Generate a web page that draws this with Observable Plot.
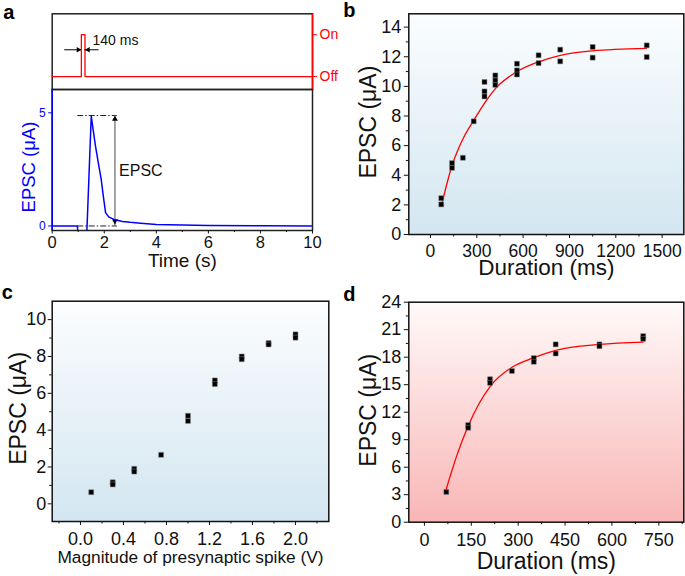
<!DOCTYPE html>
<html><head><meta charset="utf-8">
<script src="https://cdn.jsdelivr.net/npm/d3@7"></script>
<script src="https://cdn.jsdelivr.net/npm/@observablehq/plot@0.6"></script>
<style>
body{margin:0;background:#fff;}
#chart{position:relative;width:685px;height:576px;overflow:hidden;background:#fff;}
#chart svg{position:absolute;overflow:visible;}
</style></head><body><div id="chart"></div>
<script>
// ---------- Panel a data ----------
const pulseT = [0, 1.12, 1.12, 1.26, 1.26, 10];
const pulseLevel = [0, 0, 1, 1, 0, 0];
const stateLabels = ["Off", "On"];
const traceT = [0, 0.97, 0.98, 1.33, 1.5, 1.66, 1.79, 1.88, 1.96, 2.05, 2.17, 2.37, 2.7, 3.0, 3.4, 4.0, 5.0, 6.0, 8.0, 10];
const traceI = [0, 0, -0.3, -0.3, 4.85, 3.55, 2.67, 2.08, 1.35, 0.59, 0.4, 0.29, 0.2, 0.16, 0.12, 0.07, 0.04, 0.02, 0.01, 0];
const timeTicks = [0, 2, 4, 6, 8, 10];
const timeMinor = [1, 3, 5, 7, 9];
const epscTicksA = [0, 5];
const peakLevel = 4.88;
const guideT = [0.98, 2.5];
const arrowT = 2.41;
const pulseArrowY = 0.64;

// ---------- Panel b data ----------
const durB = [70, 70, 140, 140, 210, 280, 350, 350, 350, 420, 420, 420, 560, 560, 560, 700, 700, 840, 840, 1050, 1050, 1400, 1400];
const epscB = [2.45, 2.03, 4.82, 4.5, 5.18, 7.64, 10.3, 9.66, 9.32, 10.74, 10.4, 10.1, 11.53, 11.08, 10.8, 12.1, 11.57, 12.48, 11.69, 12.66, 11.94, 12.77, 11.98];
const fitBx = [72, 140, 216, 280, 356, 425, 561, 701, 841, 1046, 1398];
const fitBy = [2.0, 4.66, 6.57, 7.7, 8.96, 9.9, 11.0, 11.66, 12.1, 12.4, 12.57];
const durTicksB = [0, 300, 600, 900, 1200, 1500];
const durMinorB = [150, 450, 750, 1050, 1350];
const epscTicksB = [0, 2, 4, 6, 8, 10, 12, 14];
const epscMinorB = [1, 3, 5, 7, 9, 11, 13];

// ---------- Panel c data ----------
const voltC = [0.1, 0.3, 0.3, 0.5, 0.5, 0.75, 1.0, 1.0, 1.25, 1.25, 1.5, 1.5, 1.75, 1.75, 2.0, 2.0];
const epscC = [0.63, 1.17, 1.05, 1.9, 1.75, 2.66, 4.78, 4.5, 6.7, 6.5, 8.0, 7.85, 8.73, 8.65, 9.2, 9.02];
const voltTicks = [0, 0.4, 0.8, 1.2, 1.6, 2.0];
const voltMinor = [-0.2, 0.2, 0.6, 1.0, 1.4, 1.8, 2.2];
const epscTicksC = [0, 2, 4, 6, 8, 10];
const epscMinorC = [1, 3, 5, 7, 9];

// ---------- Panel d data ----------
const durD = [70, 140, 140, 210, 210, 280, 350, 350, 420, 420, 560, 560, 700, 700];
const epscD = [3.3, 10.6, 10.3, 15.6, 15.2, 16.5, 17.9, 17.5, 19.4, 18.4, 19.4, 19.2, 20.3, 20.0];
const fitDx = [67, 105, 140, 175, 210, 280, 350, 420, 560, 700];
const fitDy = [3.3, 7.4, 10.5, 12.95, 14.8, 16.9, 17.95, 18.75, 19.4, 19.65];
const durTicksD = [0, 150, 300, 450, 600, 750];
const durMinorD = [75, 225, 375, 525, 675, 825];
const epscTicksD = [0, 3, 6, 9, 12, 15, 18, 21, 24];
const epscMinorD = [1.5, 4.5, 7.5, 10.5, 13.5, 16.5, 19.5, 22.5];

// ---------- helpers ----------
const FONT = '"Liberation Sans", Arial, Helvetica, sans-serif';
const STYLE = {background: "transparent", fontFamily: FONT, overflow: "visible"};
const chart = document.getElementById("chart");
const intFmt = d3.format("d");
function place(svg, left, top) {
  svg.style.position = "absolute";
  svg.style.left = left + "px";
  svg.style.top = top + "px";
  chart.appendChild(svg);
}
function addGradient(svg, id, c0, c1) {
  const g = d3.select(svg).insert("defs", ":first-child")
    .append("linearGradient").attr("id", id)
    .attr("x1", 0).attr("y1", 0).attr("x2", 0).attr("y2", 1);
  g.append("stop").attr("offset", 0).attr("stop-color", c0);
  g.append("stop").attr("offset", 1).attr("stop-color", c1);
}
const label = (s) => [s];
const txt = (d) => d;
const SQ = 2.8;

// ---------- Panel a (top: stimulus) ----------
const aTop = Plot.plot({
  width: 340, height: 90,
  marginLeft: 51.7, marginRight: 28, marginTop: 13.3, marginBottom: 1,
  x: {domain: [0, 10], axis: null},
  y: {domain: [-0.31, 1.5]},
  style: STYLE,
  marks: [
    Plot.frame({stroke: "#222", strokeWidth: 1.5}),
    Plot.ruleX([10], {stroke: "#ff0000", strokeWidth: 1.5}),
    Plot.line(pulseT, {x: pulseT, y: pulseLevel, stroke: "#ff0000", strokeWidth: 1.3}),
    Plot.ruleY([pulseArrowY], {x1: 0.48, x2: 1.12, stroke: "#000", strokeWidth: 1}),
    Plot.ruleY([pulseArrowY], {x1: 1.26, x2: 1.8, stroke: "#000", strokeWidth: 1}),
    Plot.dot([{t: 1.0, rot: 90}, {t: 1.38, rot: -90}], {x: "t", y: () => pulseArrowY, rotate: "rot", symbol: "triangle", r: 2, fill: "#000", stroke: "none"}),
    Plot.text(label("140 ms"), {x: () => 1.55, y: () => 0.87, text: txt, textAnchor: "start", fontSize: 14, fill: "#111"}),
    Plot.axisY([0, 1], {anchor: "right", tickFormat: (d) => stateLabels[d], color: "#ff0000", tickSize: 4, tickPadding: 3, fontSize: 14, label: null}),
    Plot.text(label("a"), {frameAnchor: "top-left", dx: -49, dy: 4.7, lineAnchor: "bottom", textAnchor: "start", fontWeight: "bold", fontSize: 20, fill: "#000", text: txt})
  ]
});
place(aTop, 0, 0);

// ---------- Panel a (bottom: EPSC trace) ----------
const aBot = Plot.plot({
  width: 340, height: 200,
  marginLeft: 51.7, marginRight: 28, marginTop: 9, marginBottom: 50,
  x: {domain: [0, 10]},
  y: {domain: [-0.2, 6.03]},
  style: STYLE,
  marks: [
    Plot.frame({stroke: "#222", strokeWidth: 1.5}),
    Plot.ruleX([0], {stroke: "#0000ff", strokeWidth: 1.5}),
    Plot.ruleY([peakLevel, 0], {x1: guideT[0], x2: guideT[1], stroke: "#222", strokeWidth: 1, strokeDasharray: "6 2 1.5 2"}),
    Plot.ruleX([arrowT], {y1: 0, y2: peakLevel, stroke: "#666", strokeWidth: 1.2}),
    Plot.dot([{v: 4.72, rot: 0}, {v: 0.22, rot: 180}], {x: () => arrowT, y: "v", rotate: "rot", symbol: "triangle", r: 2.2, fill: "#000", stroke: "none"}),
    Plot.line(traceT, {x: traceT, y: traceI, stroke: "#0000ff", strokeWidth: 1.5, clip: true}),
    Plot.text(label("EPSC"), {x: () => 2.57, y: () => 2.45, text: txt, textAnchor: "start", lineAnchor: "middle", fontSize: 16, fill: "#111"}),
    Plot.axisX(timeTicks, {tickSize: 3.5, tickPadding: 2, fontSize: 16.5, label: null, color: "#111"}),
    Plot.axisX(timeMinor, {tickSize: 2, fill: "none", label: null, stroke: "#111"}),
    Plot.axisY(epscTicksA, {tickSize: 3.5, tickPadding: 3, fontSize: 12, color: "#0000ff", label: null}),
    Plot.text(label("Time (s)"), {frameAnchor: "bottom", dy: 36, lineAnchor: "bottom", fontSize: 19, fill: "#111", text: txt}),
    Plot.text(label("EPSC (μA)"), {frameAnchor: "left", rotate: -90, dx: -17.7, dy: 7, lineAnchor: "bottom", textAnchor: "middle", fontSize: 18.5, fill: "#0000ff", text: txt})
  ]
});
place(aBot, 0, 80);

// ---------- Panel b ----------
const bPlot = Plot.plot({
  width: 345, height: 280,
  marginLeft: 68.3, marginRight: 1.7, marginTop: 13.3, marginBottom: 46,
  x: {domain: [-140, 1640]},
  y: {domain: [0, 14.9]},
  style: STYLE,
  marks: [
    Plot.frame({fill: "url(#gradB)", stroke: "none"}),
    Plot.line(fitBx, {x: fitBx, y: fitBy, stroke: "#ff0000", strokeWidth: 1.3, curve: "monotone-x"}),
    Plot.dot(durB, {x: durB, y: epscB, symbol: "square", r: SQ, fill: "#000", stroke: "#888", strokeWidth: 0.5}),
    Plot.frame({stroke: "#111", strokeWidth: 1.5}),
    Plot.axisX(durTicksB, {tickSize: 4, tickPadding: 6, fontSize: 17.5, label: null, tickFormat: intFmt, color: "#111"}),
    Plot.axisX(durMinorB, {tickSize: 2.5, fill: "none", label: null, stroke: "#111"}),
    Plot.axisY(epscTicksB, {tickSize: 4.5, tickPadding: 3, fontSize: 18, label: null, color: "#111"}),
    Plot.axisY(epscMinorB, {tickSize: 2.5, fill: "none", label: null, stroke: "#111"}),
    Plot.text(label("Duration (ms)"), {frameAnchor: "bottom", dy: 40.5, lineAnchor: "bottom", fontSize: 22.5, fill: "#111", text: txt}),
    Plot.text(label("EPSC (μA)"), {frameAnchor: "left", rotate: -90, dx: -33.3, dy: -2, lineAnchor: "bottom", textAnchor: "middle", fontSize: 23, fill: "#111", text: txt}),
    Plot.text(label("b"), {frameAnchor: "top-left", dx: -65.5, dy: 3.4, lineAnchor: "bottom", textAnchor: "start", fontWeight: "bold", fontSize: 20, fill: "#000", text: txt})
  ]
});
addGradient(bPlot, "gradB", "#fbfdfe", "#d3e6f1");
place(bPlot, 340, 0);

// ---------- Panel c ----------
const cPlot = Plot.plot({
  width: 340, height: 296,
  marginLeft: 51.7, marginRight: 11.7, marginTop: 20.7, marginBottom: 55,
  x: {domain: [-0.263, 2.31]},
  y: {domain: [-0.96, 11.0]},
  style: STYLE,
  marks: [
    Plot.frame({fill: "url(#gradC)", stroke: "none"}),
    Plot.dot(voltC, {x: voltC, y: epscC, symbol: "square", r: SQ, fill: "#000", stroke: "#888", strokeWidth: 0.5}),
    Plot.frame({stroke: "#111", strokeWidth: 1.5}),
    Plot.axisX(voltTicks, {tickSize: 4, tickPadding: 7, fontSize: 18, label: null, tickFormat: d3.format(".1f"), color: "#111"}),
    Plot.axisX(voltMinor, {tickSize: 2.5, fill: "none", label: null, stroke: "#111"}),
    Plot.axisY(epscTicksC, {tickSize: 4, tickPadding: 2, fontSize: 18, label: null, color: "#111"}),
    Plot.axisY(epscMinorC, {tickSize: 2.5, fill: "none", label: null, stroke: "#111"}),
    Plot.text(label("Magnitude of presynaptic spike (V)"), {frameAnchor: "bottom", dy: 41, lineAnchor: "bottom", fontSize: 17.3, fill: "#111", text: txt}),
    Plot.text(label("EPSC (μA)"), {frameAnchor: "left", rotate: -90, dx: -26.7, dy: -3, lineAnchor: "bottom", textAnchor: "middle", fontSize: 23, fill: "#111", text: txt}),
    Plot.text(label("c"), {frameAnchor: "top-left", dx: -50.5, dy: -2.7, lineAnchor: "bottom", textAnchor: "start", fontWeight: "bold", fontSize: 20, fill: "#000", text: txt})
  ]
});
addGradient(cPlot, "gradC", "#fcfdfe", "#d3e6f1");
place(cPlot, 0, 280);

// ---------- Panel d ----------
const dPlot = Plot.plot({
  width: 345, height: 296,
  marginLeft: 68.3, marginRight: 1.7, marginTop: 21.7, marginBottom: 54.3,
  x: {domain: [-50, 830]},
  y: {domain: [0, 24]},
  style: STYLE,
  marks: [
    Plot.frame({fill: "url(#gradD)", stroke: "none"}),
    Plot.line(fitDx, {x: fitDx, y: fitDy, stroke: "#ff0000", strokeWidth: 1.3, curve: "monotone-x"}),
    Plot.dot(durD, {x: durD, y: epscD, symbol: "square", r: SQ, fill: "#000", stroke: "#888", strokeWidth: 0.5}),
    Plot.frame({stroke: "#111", strokeWidth: 1.5}),
    Plot.axisX(durTicksD, {tickSize: 4, tickPadding: 7, fontSize: 18, label: null, tickFormat: intFmt, color: "#111"}),
    Plot.axisX(durMinorD, {tickSize: 2.5, fill: "none", label: null, stroke: "#111"}),
    Plot.axisY(epscTicksD, {tickSize: 4.5, tickPadding: 3, fontSize: 18, label: null, color: "#111"}),
    Plot.axisY(epscMinorD, {tickSize: 2.5, fill: "none", label: null, stroke: "#111"}),
    Plot.text(label("Duration (ms)"), {frameAnchor: "bottom", dy: 47, lineAnchor: "bottom", fontSize: 23, fill: "#111", text: txt}),
    Plot.text(label("EPSC (μA)"), {frameAnchor: "left", rotate: -90, dx: -33.3, dy: -2, lineAnchor: "bottom", textAnchor: "middle", fontSize: 23, fill: "#111", text: txt}),
    Plot.text(label("d"), {frameAnchor: "top-left", dx: -65.5, dy: -1.7, lineAnchor: "bottom", textAnchor: "start", fontWeight: "bold", fontSize: 20, fill: "#000", text: txt})
  ]
});
addGradient(dPlot, "gradD", "#fff9f9", "#f9b6b6");
place(dPlot, 340, 280);
</script>
</body></html>
